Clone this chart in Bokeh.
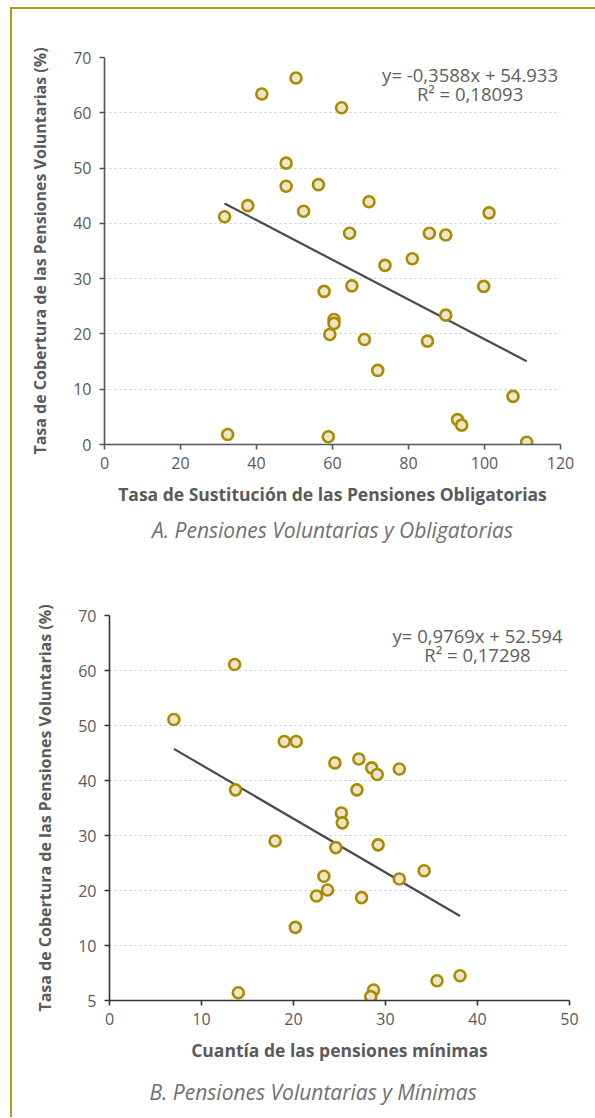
from bokeh.plotting import figure
from bokeh.models import Range1d, Label, FixedTicker, Title, Spacer
from bokeh.layouts import column, row
from bokeh.embed import file_html
from bokeh.resources import INLINE

FONT = "Open Sans"

# ---- Chart A data: Tasa de Sustitución vs Tasa de Cobertura ----
a_x = [31.6, 37.7, 41.4, 50.4, 47.8, 47.8, 56.3, 52.4, 57.8, 62.4, 69.6, 64.5,
       85.5, 89.8, 101.2, 73.8, 81.0, 65.1, 99.8, 60.4, 60.4, 59.3, 68.4, 89.8,
       85.0, 71.9, 107.5, 92.9, 94.0, 58.9, 111.1, 32.4]
a_y = [41.2, 43.2, 63.4, 66.3, 50.9, 46.7, 47.0, 42.2, 27.7, 60.9, 43.9, 38.2,
       38.2, 37.9, 41.9, 32.4, 33.6, 28.7, 28.6, 22.6, 21.9, 19.9, 19.0, 23.4,
       18.7, 13.4, 8.7, 4.5, 3.5, 1.4, 0.4, 1.8]
a_slope, a_intercept = -0.3588, 54.933
a_eq = ["y= -0,3588x + 54.933", "R\u00b2 = 0,18093"]
a_xticks = [0, 20, 40, 60, 80, 100, 120]
a_yticks = [0, 10, 20, 30, 40, 50, 60, 70]

# ---- Chart B data: Cuantía de las pensiones mínimas vs Tasa de Cobertura ----
b_x = [7.0, 13.6, 13.7, 19.0, 20.3, 24.5, 18.0, 27.1, 28.5, 29.1, 31.5, 26.9,
       25.2, 25.3, 24.6, 29.2, 23.3, 23.7, 22.5, 20.2, 27.4, 31.5, 34.2, 14.0,
       35.6, 38.1, 28.7, 28.4]
b_y = [51.1, 61.1, 38.3, 47.1, 47.1, 43.2, 29.0, 43.9, 42.3, 41.1, 42.1, 38.3,
       34.1, 32.3, 27.8, 28.3, 22.6, 20.1, 19.0, 13.3, 18.7, 22.1, 23.6, 1.4,
       3.6, 4.5, 1.9, 0.7]
b_slope, b_intercept = -0.9769, 52.594
b_eq = ["y= 0,9769x + 52.594", "R\u00b2 = 0,17298"]
b_xticks = [0, 10, 20, 30, 40, 50]
b_yticks = [0, 10, 20, 30, 40, 50, 60, 70]
b_ytick_labels = {0: "5"}

y_title = "Tasa de Cobertura de las Pensiones Voluntarias (%)"
a_xtitle = "Tasa de Sustitución de las Pensiones Obligatorias"
b_xtitle = "Cuantía de las pensiones mínimas"
a_sub = "A. Pensiones Voluntarias y Obligatorias"
b_sub = "B. Pensiones Voluntarias y Mínimas"

GOLD = "#A88B00"
FILL = "#ECE5C8"
TXT = "#5a5a5a"


def make(xs, ys, slope, intercept, eq, xr, xticks, yticks, xtitle, sub,
         fw, fh, bl, br, bt, bb, axis_col, eq_pos, sub_align, sub_offset,
         sub_standoff, ylabels=None):
    p = figure(frame_width=fw, frame_height=fh, x_range=Range1d(*xr),
               y_range=Range1d(0, 70), output_backend="svg",
               toolbar_location=None, min_border_left=bl, min_border_right=br,
               min_border_top=bt, min_border_bottom=bb)
    p.outline_line_color = None
    p.xgrid.grid_line_color = None
    p.ygrid.grid_line_color = "#c8c8c8"
    p.ygrid.grid_line_dash = "2 3"
    p.ygrid.grid_line_width = 1.2
    for ax in (p.xaxis[0], p.yaxis[0]):
        ax.axis_line_color = axis_col
        ax.axis_line_width = 1.6
        ax.major_tick_line_color = axis_col
        ax.major_tick_line_width = 1.6
        ax.major_tick_out = 5
        ax.major_tick_in = 0
        ax.minor_tick_line_color = None
        ax.major_label_text_font = FONT
        ax.major_label_text_font_size = "16px"
        ax.major_label_text_color = TXT
        ax.axis_label_text_font = FONT
        ax.axis_label_text_font_style = "bold"
        ax.axis_label_text_color = TXT
    p.xaxis.ticker = FixedTicker(ticks=xticks)
    p.yaxis.ticker = FixedTicker(ticks=yticks)
    if ylabels:
        p.yaxis.major_label_overrides = ylabels
    p.xaxis.axis_label = xtitle
    p.xaxis.axis_label_text_font_size = "17.5px"
    p.xaxis.axis_label_standoff = 10
    p.xaxis.major_label_standoff = 7
    p.yaxis.axis_label = y_title
    p.yaxis.axis_label_text_font_size = "16px"
    p.yaxis.axis_label_standoff = 19
    p.yaxis.major_label_standoff = 8

    x0, x1 = min(xs), max(xs)
    p.line([x0, x1], [slope * x0 + intercept, slope * x1 + intercept],
           line_color="#4a4a4a", line_width=2.2)
    p.scatter(xs, ys, size=11, fill_color=FILL, line_color=GOLD, line_width=2.6)

    ex, ey1, ey2 = eq_pos
    for txt, ey in ((eq[0], ey1), (eq[1], ey2)):
        p.add_layout(Label(x=ex, y=ey, text=txt, text_align="center",
                           text_baseline="middle", text_font=FONT,
                           text_font_size="18.5px", text_color="#606060"))
    p.add_layout(Title(text=sub, align=sub_align, offset=sub_offset,
                       standoff=sub_standoff, text_font=FONT,
                       text_font_style="italic", text_font_size="21px",
                       text_color="#707070"), "below")
    return p


pA = make(a_x, a_y, a_slope, a_intercept, a_eq, (0, 120), a_xticks, a_yticks,
          a_xtitle, a_sub, 456, 387, 92, 26, 48, 121, "#555555",
          (96.2, 66.9, 63.5), "center", 0, 11)
pB = make(b_x, b_y, b_slope, b_intercept, b_eq, (0, 50), b_xticks, b_yticks,
          b_xtitle, b_sub, 460, 385, 92, 18, 50, 112, "#333333",
          (40.0, 66.4, 62.9), "left", 40, 23, ylabels=b_ytick_labels)

layout = column(pA, row(Spacer(width=5, height=10), pB, spacing=0), spacing=0,
                styles={"border-left": "2px solid #B39A10",
                        "border-top": "2px solid #B39A10",
                        "margin-left": "10px", "margin-top": "7px",
                        "padding-right": "8px"})

open("out.html", "w").write(file_html(layout, INLINE))
